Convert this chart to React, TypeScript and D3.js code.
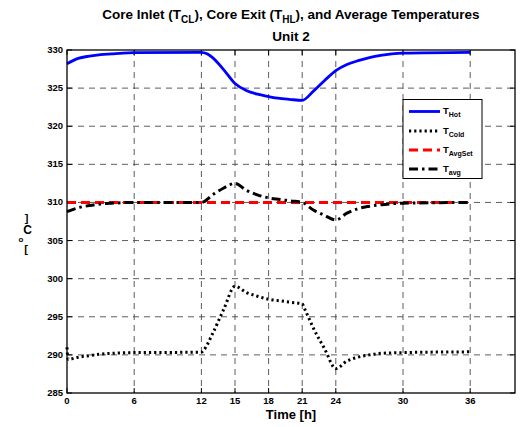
import React from 'react'
import * as d3 from 'd3'

// time [h] and temperatures [degC]
const hotTime = [0, 1, 2, 3, 4, 5, 6, 12, 12.5, 13, 14, 15, 16, 17, 18, 19, 20, 21, 22, 23, 24, 25, 26, 27, 28, 29, 30, 36]
const hotTemp = [328.2, 328.9, 329.2, 329.4, 329.5, 329.6, 329.65, 329.7, 329.5, 329.0, 327.4, 325.6, 324.7, 324.2, 323.9, 323.65, 323.5, 323.4, 324.6, 326.0, 327.3, 328.1, 328.6, 329.0, 329.3, 329.5, 329.6, 329.7]

const coldTime = [0, 0.1, 1, 2, 3, 4, 6, 12, 12.2, 13, 14, 15, 16, 17, 18, 19, 20, 21, 21.2, 22, 23, 24, 25, 26, 27, 28, 30, 36]
const coldTemp = [291.0, 289.4, 289.7, 289.9, 290.1, 290.2, 290.3, 290.35, 290.6, 292.8, 296.0, 299.0, 298.2, 297.7, 297.3, 297.1, 296.9, 296.7, 296.1, 293.5, 290.8, 288.2, 289.2, 289.7, 290.0, 290.2, 290.3, 290.4]

const setTime = [0, 36]
const setTemp = [310, 310]

const avgTime = [0, 1, 2, 3, 4, 6, 12, 13, 14, 15, 16, 17, 18, 19, 20, 21, 22, 23, 24, 25, 26, 27, 28, 30, 36]
const avgTemp = [308.8, 309.3, 309.6, 309.8, 309.9, 310.0, 310.0, 311.0, 311.9, 312.5, 311.6, 311.0, 310.6, 310.4, 310.2, 310.0, 309.0, 308.3, 307.7, 308.6, 309.2, 309.5, 309.7, 309.9, 310.0]

const xTicks = [0, 6, 12, 15, 18, 21, 24, 30, 36]
const yTicks = [285, 290, 295, 300, 305, 310, 315, 320, 325, 330]

const legendNames = ['Hot', 'Cold', 'AvgSet', 'avg']

const left = 67
const right = 515
const top = 50
const bottom = 393

export default function App () {
  const x = d3.scaleLinear().domain([0, 40]).range([left, right])
  const y = d3.scaleLinear().domain([285, 330]).range([bottom, top])

  const line = d3.line<[number, number]>()
    .x(d => x(d[0]))
    .y(d => y(d[1]))
    .curve(d3.curveMonotoneX)

  const zip = (t: number[], v: number[]) => t.map((d, i) => [d, v[i]] as [number, number])

  const series = [
    { data: zip(hotTime, hotTemp), color: '#0000ff', width: 2.8, dash: '' },
    { data: zip(coldTime, coldTemp), color: '#000', width: 3, dash: '2.2,3' },
    { data: zip(setTime, setTemp), color: '#ff0000', width: 3, dash: '9,5' },
    { data: zip(avgTime, avgTemp), color: '#000', width: 3, dash: '9,4,2.5,4' }
  ]

  const font = 'Liberation Sans, Arial, sans-serif'
  const legendY = [111.5, 131, 150, 169]

  return (
    <svg width={521} height={427} style={{ position: 'absolute', left: 0, top: 0, background: '#fff' }} fontFamily={font}>
      <rect x={0} y={0} width={521} height={427} fill='#fff' />

      {/* title */}
      <text x={291} y={19} textAnchor='middle' fontSize={13.5} fontWeight='bold'>
        Core Inlet (T<tspan fontSize={10} dy={4}>CL</tspan><tspan dy={-4}>), Core Exit (T</tspan><tspan fontSize={10} dy={4}>HL</tspan><tspan dy={-4}>), and Average Temperatures</tspan>
      </text>
      <text x={291} y={41} textAnchor='middle' fontSize={13.5} fontWeight='bold'>Unit 2</text>

      {/* grid */}
      <g stroke='#333' strokeWidth={0.8} strokeDasharray='6,5'>
        {yTicks.filter(v => v > 285 && v < 330).map(v => (
          <line key={'gy' + v} x1={left} x2={right} y1={y(v)} y2={y(v)} />
        ))}
        {xTicks.filter(v => v > 0).map(v => (
          <line key={'gx' + v} x1={x(v)} x2={x(v)} y1={top} y2={bottom} />
        ))}
      </g>

      {/* ticks */}
      <g stroke='#000' strokeWidth={1}>
        {yTicks.map(v => (
          <g key={'ty' + v}>
            <line x1={left} x2={left + 5} y1={y(v)} y2={y(v)} />
            <line x1={right} x2={right - 5} y1={y(v)} y2={y(v)} />
          </g>
        ))}
        {xTicks.map(v => (
          <g key={'tx' + v}>
            <line x1={x(v)} x2={x(v)} y1={bottom} y2={bottom - 5} />
            <line x1={x(v)} x2={x(v)} y1={top} y2={top + 5} />
          </g>
        ))}
      </g>

      {/* series */}
      {series.map((s, i) => (
        <path key={'s' + i} d={line(s.data) || ''} fill='none' stroke={s.color}
          strokeWidth={s.width} strokeDasharray={s.dash || undefined} />
      ))}

      {/* axes box */}
      <rect x={left} y={top} width={right - left} height={bottom - top} fill='none' stroke='#000' strokeWidth={1.3} />

      {/* tick labels */}
      <g fontSize={9.5} fontWeight='bold'>
        {yTicks.map(v => (
          <text key={'ly' + v} x={left - 4} y={y(v) + 3} textAnchor='end'>{v}</text>
        ))}
        {xTicks.map(v => (
          <text key={'lx' + v} x={x(v)} y={bottom + 11} textAnchor='middle'>{v}</text>
        ))}
      </g>

      {/* axis labels */}
      <text x={291} y={419} textAnchor='middle' fontSize={13} fontWeight='bold'>Time [h]</text>
      <g fontWeight='bold' textAnchor='middle'>
        <text x={26.5} y={222} fontSize={11}>]</text>
        <text x={27.5} y={234} fontSize={12}>C</text>
        <text x={21} y={242} fontSize={8}>o</text>
        <text x={26} y={253} fontSize={11}>[</text>
      </g>

      {/* legend */}
      <rect x={403} y={99.5} width={79} height={79} fill='#fff' stroke='#000' strokeWidth={1} />
      {series.map((s, i) => (
        <g key={'lg' + i}>
          <line x1={409} x2={440} y1={legendY[i]} y2={legendY[i]} stroke={s.color}
            strokeWidth={s.width} strokeDasharray={s.dash || undefined} />
          <text x={443} y={legendY[i] + 2.5} fontSize={9.5} fontWeight='bold'>
            T<tspan fontSize={7} dy={3}>{legendNames[i]}</tspan>
          </text>
        </g>
      ))}
    </svg>
  )
}
